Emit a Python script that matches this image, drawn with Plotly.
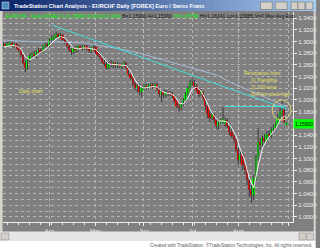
import plotly.graph_objects as go
import pandas as pd

# ---------------- data ----------------
dates = pd.bdate_range("2011-03-03", "2011-08-31")  # 130 daily bars

open_ = [1.2887,1.2956,1.2921,1.2956,1.2973,1.2921,1.2956,1.2904,1.2853,1.2768,
         1.2631,1.2545,1.2682,1.2750,1.2785,1.2750,1.2819,1.2853,1.2819,1.2921,
         1.2956,1.2921,1.3024,1.3058,1.3092,1.3126,1.3092,1.3109,1.3024,1.2990,
         1.2921,1.2853,1.2819,1.2887,1.2853,1.2921,1.2904,1.2887,1.2921,1.2870,
         1.2836,1.2887,1.2904,1.2819,1.2768,1.2716,1.2648,1.2614,1.2545,1.2614,
         1.2597,1.2631,1.2579,1.2614,1.2579,1.2597,1.2631,1.2545,1.2443,1.2374,
         1.2272,1.2203,1.2238,1.2135,1.2203,1.2238,1.2203,1.2238,1.2255,1.2221,
         1.2272,1.2186,1.2101,1.2135,1.2084,1.2135,1.2101,1.2118,1.2067,1.1981,
         1.1896,1.1862,1.1930,1.1998,1.2101,1.2203,1.2289,1.2306,1.2238,1.2169,
         1.2101,1.2135,1.2032,1.1896,1.1759,1.1690,1.1759,1.1656,1.1554,1.1622,
         1.1639,1.1588,1.1656,1.1554,1.1451,1.1383,1.1315,1.1144,1.0973,1.1058,
         1.0887,1.0802,1.0631,1.0460,1.0374,1.0665,1.1007,1.1280,1.1229,1.1349,
         1.1297,1.1417,1.1383,1.1485,1.1520,1.1571,1.1690,1.1793,1.1827,1.1580]
high = [1.2990,1.2973,1.2990,1.3007,1.2990,1.2973,1.2973,1.2938,1.2870,1.2785,
        1.2682,1.2716,1.2802,1.2819,1.2836,1.2853,1.2887,1.2887,1.2938,1.2990,
        1.2990,1.3058,1.3109,1.3126,1.3161,1.3144,1.3144,1.3126,1.3058,1.3007,
        1.2938,1.2887,1.2921,1.2921,1.2938,1.2938,1.2938,1.2938,1.2938,1.2904,
        1.2904,1.2938,1.2921,1.2853,1.2802,1.2733,1.2682,1.2648,1.2648,1.2682,
        1.2648,1.2648,1.2648,1.2631,1.2631,1.2665,1.2648,1.2562,1.2477,1.2409,
        1.2306,1.2272,1.2272,1.2238,1.2272,1.2272,1.2272,1.2289,1.2289,1.2306,
        1.2289,1.2221,1.2169,1.2169,1.2169,1.2152,1.2152,1.2135,1.2084,1.2015,
        1.1930,1.1964,1.2032,1.2135,1.2238,1.2340,1.2374,1.2340,1.2272,1.2203,
        1.2186,1.2152,1.2050,1.1930,1.1827,1.1793,1.1776,1.1690,1.1656,1.1690,
        1.1879,1.1708,1.1690,1.1588,1.1520,1.1417,1.1349,1.1178,1.1144,1.1109,
        1.0938,1.0836,1.0665,1.0545,1.0716,1.1058,1.1520,1.1349,1.1400,1.1417,
        1.1468,1.1485,1.1537,1.1588,1.1622,1.1759,1.1862,1.1998,1.1896,1.1614]
low = [1.2870,1.2904,1.2904,1.2921,1.2904,1.2887,1.2870,1.2819,1.2733,1.2597,
       1.2477,1.2511,1.2648,1.2716,1.2733,1.2716,1.2785,1.2785,1.2802,1.2887,
       1.2887,1.2904,1.2990,1.3024,1.3058,1.3058,1.3058,1.3007,1.2956,1.2887,
       1.2819,1.2768,1.2785,1.2802,1.2819,1.2870,1.2853,1.2853,1.2836,1.2802,
       1.2802,1.2853,1.2785,1.2733,1.2682,1.2614,1.2579,1.2511,1.2528,1.2562,
       1.2545,1.2545,1.2545,1.2545,1.2528,1.2562,1.2511,1.2409,1.2340,1.2238,
       1.2169,1.2135,1.2084,1.2050,1.2169,1.2169,1.2186,1.2203,1.2186,1.2203,
       1.2152,1.2050,1.1964,1.2032,1.2050,1.2067,1.2067,1.2032,1.1947,1.1862,
       1.1793,1.1827,1.1896,1.1964,1.2067,1.2169,1.2238,1.2203,1.2135,1.2050,
       1.2067,1.1981,1.1827,1.1690,1.1622,1.1656,1.1588,1.1503,1.1485,1.1588,
       1.1605,1.1537,1.1520,1.1400,1.1349,1.1263,1.1109,1.0887,1.0921,1.0802,
       1.0716,1.0545,1.0340,1.0238,1.0289,1.0597,1.0973,1.1144,1.1195,1.1263,
       1.1280,1.1349,1.1349,1.1451,1.1485,1.1554,1.1656,1.1725,1.1605,1.1570]
close = [1.2956,1.2921,1.2956,1.2973,1.2921,1.2956,1.2904,1.2853,1.2768,1.2631,
         1.2545,1.2682,1.2750,1.2785,1.2750,1.2819,1.2853,1.2819,1.2921,1.2956,
         1.2921,1.3024,1.3058,1.3092,1.3126,1.3092,1.3109,1.3024,1.2990,1.2921,
         1.2853,1.2819,1.2887,1.2853,1.2921,1.2904,1.2887,1.2921,1.2870,1.2836,
         1.2887,1.2904,1.2819,1.2768,1.2716,1.2648,1.2614,1.2545,1.2614,1.2597,
         1.2631,1.2579,1.2614,1.2579,1.2597,1.2631,1.2545,1.2443,1.2374,1.2272,
         1.2203,1.2238,1.2135,1.2203,1.2238,1.2203,1.2238,1.2255,1.2221,1.2272,
         1.2186,1.2101,1.2135,1.2084,1.2135,1.2101,1.2118,1.2067,1.1981,1.1896,
         1.1862,1.1930,1.1998,1.2101,1.2203,1.2289,1.2306,1.2238,1.2169,1.2101,
         1.2135,1.2032,1.1896,1.1759,1.1690,1.1759,1.1656,1.1554,1.1622,1.1639,
         1.1673,1.1656,1.1554,1.1451,1.1383,1.1315,1.1144,1.0973,1.1058,1.0887,
         1.0802,1.0631,1.0460,1.0374,1.0665,1.1007,1.1280,1.1229,1.1349,1.1297,
         1.1417,1.1383,1.1485,1.1520,1.1571,1.1690,1.1793,1.1827,1.1622,1.1590]

# short exponential moving average (white line), read at sampled bars
ma_idx = [0,2,4,6,8,10,12,14,16,18,20,22,24,26,28,30,32,34,36,38,40,42,44,46,48,50,
          52,54,56,58,60,62,64,66,68,70,72,74,76,78,80,82,84,86,88,90,92,94,96,98,
          100,102,104,106,108,110,112,114,116,118,120,122,124,126,128,129]
ma_val = [1.2904,1.2921,1.2930,1.2921,1.2870,1.2733,1.2682,1.2733,1.2785,1.2836,1.2887,
          1.2973,1.3041,1.3084,1.3058,1.2973,1.2887,1.2870,1.2887,1.2887,1.2870,1.2862,
          1.2785,1.2699,1.2614,1.2605,1.2597,1.2597,1.2588,1.2477,1.2340,1.2238,1.2203,
          1.2212,1.2229,1.2221,1.2152,1.2118,1.2109,1.2067,1.1947,1.1930,1.2032,1.2186,
          1.2221,1.2152,1.2015,1.1844,1.1725,1.1639,1.1639,1.1622,1.1520,1.1383,1.1144,
          1.0956,1.0665,1.0494,1.0870,1.1178,1.1315,1.1417,1.1503,1.1656,1.1725,1.1690]

# 100-period EMA (light blue line), read at sampled bars
ema_idx = [0, 13, 24, 37, 48, 60, 73, 88, 97, 106, 115, 124, 129.5]
ema_val = [1.3024, 1.2995, 1.2990, 1.2973, 1.2904, 1.2819, 1.2682, 1.2528, 1.2426,
           1.2255, 1.2118, 1.1964, 1.1870]

# drawn trendline and prior pivot high
trend_idx = [22, 129]
trend_val = [1.3280, 1.1844]
pivot_idx = [101, 128.5]
pivot_val = [1.1887, 1.1887]

month_labels = ["Apr", "May", "Jun", "Jul", "Aug", ""]
month_starts = ["2011-04-01", "2011-05-02", "2011-06-01", "2011-07-01", "2011-08-01"]
price_ticks = [1.00, 1.02, 1.04, 1.06, 1.08, 1.10, 1.12, 1.14, 1.18, 1.20, 1.22,
               1.24, 1.26, 1.28, 1.30, 1.32, 1.34]   # 1.16 hidden behind last-price box
last_price = 1.15900

# ---------------- layout helpers ----------------
W, H = 320, 248
L, R, T, B = 3, 297, 12, 222
def px(x):
    return (x - L) / (R - L)
def py(y):
    return (B - y) / (B - T)

idx = list(range(len(dates)))
tick_pos = [dates.get_loc(pd.Timestamp(d)) for d in month_starts] + [len(dates)]

GRAY = "#808080"
GRID = "#b4b4b4"
LIGHT = "#eeeeee"
YEL = "#e6e062"

fig = go.Figure()

# wicks
wx, wy = [], []
for i in idx:
    wx += [i, i, None]
    wy += [low[i], high[i], None]
fig.add_trace(go.Scatter(x=wx, y=wy, mode="lines", line=dict(color="#3a3a3a", width=1),
                         hoverinfo="skip", showlegend=False))
# bodies
body_base = [min(o, c) for o, c in zip(open_, close)]
body_len = [abs(c - o) for o, c in zip(open_, close)]
body_col = ["#00ff00" if c >= o else "#ff0000" for o, c in zip(open_, close)]
fig.add_trace(go.Bar(x=idx, y=body_len, base=body_base, width=0.82,
                     marker=dict(color=body_col, line=dict(width=0)),
                     hoverinfo="skip", showlegend=False))
# 100 ema
fig.add_trace(go.Scatter(x=ema_idx, y=ema_val, mode="lines",
                         line=dict(color="#a6b8d8", width=1), hoverinfo="skip", showlegend=False))
# trendline
fig.add_trace(go.Scatter(x=trend_idx, y=trend_val, mode="lines",
                         line=dict(color="#40dcdc", width=1), hoverinfo="skip", showlegend=False))
# prior pivot high
fig.add_trace(go.Scatter(x=pivot_idx, y=pivot_val, mode="lines",
                         line=dict(color="#40dcdc", width=1), hoverinfo="skip", showlegend=False))
# short ema
fig.add_trace(go.Scatter(x=ma_idx, y=ma_val, mode="lines",
                         line=dict(color="#f4f4f4", width=1), hoverinfo="skip", showlegend=False))

shapes = []
# title bar gradient
n = 40
c0 = (10, 36, 106); c1 = (166, 202, 240)
for k in range(n):
    t = k / (n - 1)
    col = "rgb(%d,%d,%d)" % tuple(int(c0[j] + (c1[j] - c0[j]) * t) for j in range(3))
    shapes.append(dict(type="rect", xref="paper", yref="paper",
                       x0=px(k * W / n), x1=px((k + 1) * W / n + 0.5), y0=py(11), y1=py(0),
                       fillcolor=col, line=dict(width=0), layer="above"))
# title icon
shapes.append(dict(type="rect", xref="paper", yref="paper", x0=px(2), x1=px(9), y0=py(9), y1=py(2),
                   fillcolor="#4f8fbf", line=dict(color="#e0e0e0", width=0.5), layer="above"))
# toolbar / window buttons
for x0, x1 in [(264, 276), (279, 291), (295, 302), (302, 309), (310, 317)]:
    shapes.append(dict(type="rect", xref="paper", yref="paper", x0=px(x0), x1=px(x1), y0=py(9.5), y1=py(2),
                       fillcolor="#d4d0c8", line=dict(color="#606060", width=0.5), layer="above"))
# frames
shapes.append(dict(type="rect", xref="paper", yref="paper", x0=px(0), x1=px(2.5), y0=py(232), y1=py(11),
                   fillcolor="#d8d8d0", line=dict(width=0), layer="above"))
shapes.append(dict(type="rect", xref="paper", yref="paper", x0=px(318), x1=px(320), y0=py(232), y1=py(11),
                   fillcolor="#d8d8d0", line=dict(width=0), layer="above"))
# scrollbar
shapes.append(dict(type="rect", xref="paper", yref="paper", x0=px(0), x1=px(320), y0=py(241), y1=py(231.5),
                   fillcolor="#e6e6e6", line=dict(width=0), layer="above"))
for x0, x1 in [(1, 9), (303, 310), (311, 318)]:
    shapes.append(dict(type="rect", xref="paper", yref="paper", x0=px(x0), x1=px(x1), y0=py(240), y1=py(233),
                       fillcolor="#d4d0c8", line=dict(color="#808080", width=0.5), layer="above"))
# bottom white strip
shapes.append(dict(type="rect", xref="paper", yref="paper", x0=px(0), x1=px(320), y0=py(248), y1=py(241),
                   fillcolor="#ffffff", line=dict(width=0), layer="above"))
# circle around resistance
shapes.append(dict(type="circle", xref="x", yref="y", x0=122.4, x1=131.0, y0=1.1656, y1=1.1998,
                   line=dict(color="#d8d070", width=1)))
# last-price box on the scale
shapes.append(dict(type="rect", xref="paper", yref="y", x0=px(297.5), x1=px(318), y0=last_price - 0.0080,
                   y1=last_price + 0.0080, fillcolor="#00ff00", line=dict(width=0), layer="above"))

ann = []
ann.append(dict(xref="paper", yref="paper", x=px(12), y=py(5.5), xanchor="left", yanchor="middle",
                text="<b>TradeStation Chart Analysis - EURCHF Daily [FOREX] Euro / Swiss Franc</b>",
                showarrow=False, font=dict(size=5.5, color="#ffffff", family="Liberation Sans, Arial")))
status = ("<span style='color:#00ff00'>EURCHF - Daily FOREX L=1.15900 0.00114 0.10%</span> "
          "B=1.15900 A=1.15960 <span style='color:#00ff00'>O=1.15796</span> "
          "Hi=1.16141 Lo=1.15885 V=0 Mov Avg Exp")
ann.append(dict(xref="paper", yref="paper", x=px(4), y=py(15.5), xanchor="left", yanchor="middle",
                text=status, showarrow=False,
                font=dict(size=5, color="#101010", family="Liberation Sans, Arial")))
ann.append(dict(xref="paper", yref="paper", x=px(17), y=py(91), xanchor="left", yanchor="middle",
                text="Daily chart", showarrow=False,
                font=dict(size=5, color=YEL, family="Liberation Sans, Arial")))
for txt, x, y in [("Resistance from:", 245, 73), ("1) Trendline", 252, 80),
                  ("2) 100 ema", 252, 87), ("3) Prior pivot high", 252, 94)]:
    ann.append(dict(xref="paper", yref="paper", x=px(x), y=py(y), xanchor="left", yanchor="middle",
                    text=txt, showarrow=False,
                    font=dict(size=5, color=YEL, family="Liberation Sans, Arial")))
ann.append(dict(xref="paper", yref="y", x=px(307.8), y=last_price, xanchor="center", yanchor="middle",
                text="%.5f" % last_price, showarrow=False,
                font=dict(size=5, color="#000000", family="Liberation Sans, Arial")))
ann.append(dict(xref="paper", yref="paper", x=px(318), y=py(244.5), xanchor="right", yanchor="middle",
                text="Created with TradeStation. \u00aeTradeStation Technologies, Inc. All rights reserved.",
                showarrow=False, font=dict(size=4.6, color="#606060", family="Liberation Sans, Arial")))

fig.update_layout(
    width=W, height=H, margin=dict(l=L, r=W - R, t=T, b=H - B, pad=0),
    paper_bgcolor=GRAY, plot_bgcolor=GRAY, showlegend=False, bargap=0,
    shapes=shapes, annotations=ann,
    xaxis=dict(range=[-0.2, 131.9], tickvals=tick_pos, ticktext=month_labels,
               showgrid=True, gridcolor=GRID, griddash="dot", gridwidth=1, zeroline=False,
               showline=True, linecolor=LIGHT, linewidth=1, ticks="outside", ticklen=3,
               tickcolor=LIGHT, tickfont=dict(size=6, color=LIGHT, family="Liberation Sans, Arial"),
               minor=dict(tick0=2, dtick=5, ticks="outside", ticklen=2, tickcolor=LIGHT, showgrid=False)),
    yaxis=dict(range=[0.99128, 1.35026], side="right", tickvals=price_ticks, tickformat=".4f",
               showgrid=True, gridcolor=GRID, griddash="dot", gridwidth=1, zeroline=False,
               showline=True, linecolor=LIGHT, linewidth=1, ticks="outside", ticklen=3,
               tickcolor=LIGHT, tickfont=dict(size=6, color=LIGHT, family="Liberation Sans, Arial"),
               minor=dict(dtick=0.01, tick0=1.0, showgrid=True, gridcolor=GRID, griddash="dot")),
)

fig.write_html("out.html")
